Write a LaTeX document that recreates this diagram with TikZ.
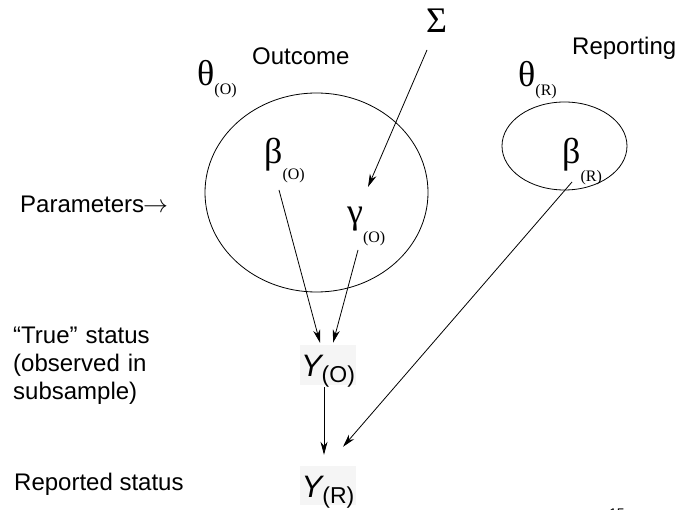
\documentclass[tikz,border=0pt]{standalone}
\usepackage{fontspec}
\setmainfont{Liberation Sans}
\newfontfamily\grkfont{Liberation Serif}
\usetikzlibrary{shapes.geometric,arrows.meta}
\newcommand\gsym[3]{{\grkfont\fontsize{36}{36}\selectfont #1}\raisebox{-#3pt}{\grkfont\fontsize{16}{16}\selectfont(#2)}}
\newcommand\ysym[1]{{\fontsize{31}{31}\selectfont\itshape Y}\raisebox{-6pt}{\fontsize{23}{23}\selectfont(#1)}}
\begin{document}
\begin{tikzpicture}[x=1pt,y=-1pt,
  lbl/.style={font=\fontsize{24}{28}\selectfont, inner sep=0pt, anchor=base west},
  grk/.style={inner sep=0pt, anchor=base west},
  ybox/.style={fill=black!4, inner sep=0pt, minimum width=56pt, text depth=8pt},
  arr/.style={line width=0.8pt, -{Stealth[length=13pt,width=7pt,inset=4pt]}},
  ell/.style={draw, ellipse, line width=0.8pt, inner sep=0pt}]
\useasboundingbox (0,0) rectangle (680,510);
\clip (0,0) rectangle (680,510);
% ellipses
\node[ell, minimum width=223pt, minimum height=199pt] (outE) at (316.5,192.5) {};
\node[ell, minimum width=125pt, minimum height=88pt] (repE) at (564.5,146) {};
% greek symbols
\node[grk] (sigma) at (426,33) {{\grkfont\fontsize{36}{36}\selectfont Σ}};
\node[grk] (thO) at (197,86) {\gsym{θ}{O}{9}};
\node[grk] (thR) at (518,87) {\gsym{θ}{R}{9}};
\node[grk] (bO) at (264,164) {\gsym{β}{O}{16}};
\node[grk] (gO) at (347,224) {\gsym{γ}{O}{19}};
\node[grk] (bR) at (562,164) {\gsym{β}{R}{18}};
% Y nodes
\node[ybox, text height=32pt] (YO) at (328,365) {\ysym{O}};
\node[ybox, text height=31pt] (YR) at (328,485.5) {\ysym{R}};
% labels
\node[lbl] (outL) at (252,64.5) {Outcome};
\node[lbl] (repL) at (572,55) {Reporting};
\node[lbl] (parL) at (20,213) {Parameters\kern-1pt\raisebox{0.5pt}{$\rightarrow$}};
\node[lbl, text width=170pt, align=left] (trueL) at (13,344) {“True” status\\(observed in\\subsample)};
\node[lbl] (rptL) at (14,490) {Reported status};
\node[font=\fontsize{14}{14}\selectfont, anchor=base west, inner sep=0pt] (pg) at (609,518) {15};
% connectors
\draw[arr] ([xshift=1pt,yshift=-17pt]sigma.base west) -- ([xshift=21pt,yshift=37pt]gO.base west);
\draw[arr] ([xshift=15pt,yshift=-26pt]bO.base west) -- ([xshift=-8pt,yshift=2pt]YO.north);
\draw[arr] ([xshift=11pt,yshift=-26pt]gO.base west) -- ([xshift=5pt,yshift=2pt]YO.north);
\draw[arr] ([xshift=-4pt,yshift=-2pt]YO.south) -- ([xshift=-4pt,yshift=11pt]YR.north);
\draw[arr] ([xshift=10pt,yshift=-18pt]bR.base west) -- ([xshift=15pt,yshift=19pt]YR.north);
\end{tikzpicture}
\end{document}
